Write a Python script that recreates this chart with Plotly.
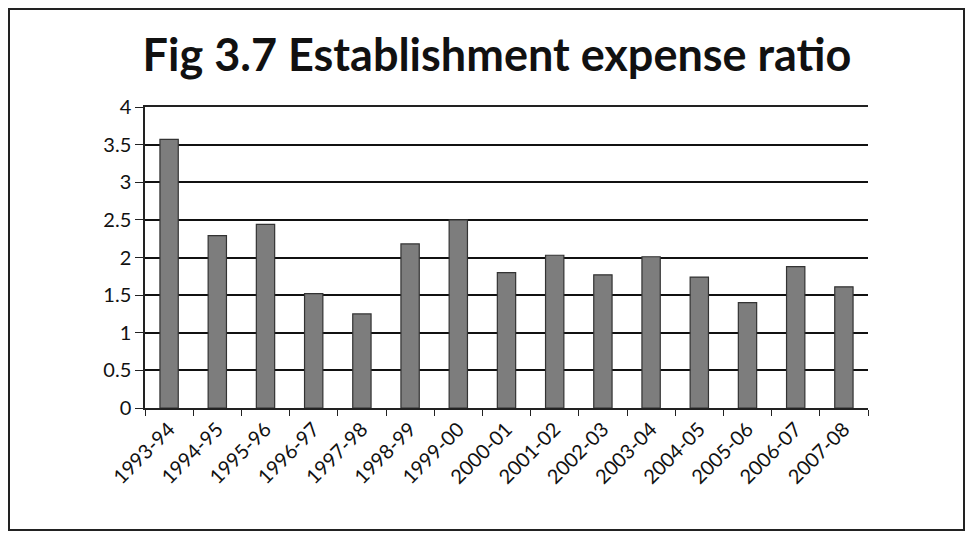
import plotly.graph_objects as go

years = ["1993-94", "1994-95", "1995-96", "1996-97", "1997-98", "1998-99", "1999-00",
         "2000-01", "2001-02", "2002-03", "2003-04", "2004-05", "2005-06", "2006-07", "2007-08"]
ratio = [3.57, 2.29, 2.44, 1.52, 1.25, 2.18, 2.50, 1.80, 2.03, 1.77, 2.01, 1.74, 1.40, 1.88, 1.61]
y_ticks = [0, 0.5, 1, 1.5, 2, 2.5, 3, 3.5, 4]
y_labels = ["0", "0.5", "1", "1.5", "2", "2.5", "3", "3.5", "4"]

fig = go.Figure(go.Bar(
    x=years, y=ratio,
    marker=dict(color="#7d7d7d", line=dict(color="#333333", width=1.2)),
))

# page body has an 8px margin; figure sized to fit the window
W, H = 957, 523
L, T = 137, 99
R = W - 860
B = H - 400
pw, ph = W - L - R, H - T - B

fig.update_layout(
    width=W, height=H,
    margin=dict(l=L, r=R, t=T, b=B),
    paper_bgcolor="white", plot_bgcolor="white",
    bargap=0.62,
    showlegend=False,
    font=dict(family="Lato, Open Sans, sans-serif", color="#111111"),
    title=dict(text="<b>Fig 3.7 Establishment expense ratio</b>",
               x=(497 - 8) / W, xanchor="center", xref="container", y=1 - 47 / H,
               yanchor="middle", yref="container",
               font=dict(size=45, family="Lato, Open Sans, sans-serif", color="#111111")),
    xaxis=dict(type="category", tickangle=-45, tickfont=dict(size=20), showline=True,
               mirror=True, linecolor="#222222", linewidth=1.5, ticks="outside",
               tickson="boundaries", ticklen=6, tickcolor="#222222", showgrid=False),
    yaxis=dict(range=[0, 4], tickvals=y_ticks, ticktext=y_labels, tickfont=dict(size=20),
               showline=True, linecolor="#222222", linewidth=1.5, ticks="outside", ticklen=8,
               tickcolor="#222222", showgrid=True, gridcolor="#111111", gridwidth=1.5,
               zeroline=False),
    shapes=[dict(type="rect", xref="paper", yref="paper",
                 x0=(1 - L) / pw, x1=(W - 1 - L) / pw,
                 y0=-(B - 1) / ph, y1=1 + (T - 1) / ph,
                 line=dict(color="#222222", width=2), fillcolor="rgba(0,0,0,0)")],
)

fig.write_html("out.html")
